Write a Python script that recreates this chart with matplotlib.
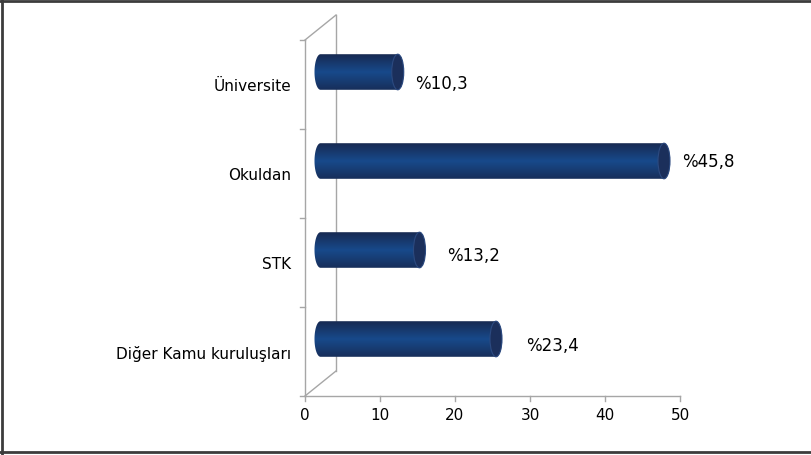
import numpy as np
import matplotlib
matplotlib.use("Agg")
import matplotlib.pyplot as plt
from matplotlib.patches import Polygon, Ellipse
from matplotlib.lines import Line2D

# chart data (top to bottom)
categories = ["Üniversite", "Okuldan", "STK", "Diğer Kamu kuruluşları"]
values = [10.3, 45.8, 13.2, 23.4]
value_labels = ["%10,3", "%45,8", "%13,2", "%23,4"]
x_ticks = [0, 10, 20, 30, 40, 50]

# label nudges in pixels (right, down) relative to the bar end
label_offsets = [(11, 12), (12, 1), (22, 6), (24, 7)]

W, H, DPI = 812, 455, 100
fig = plt.figure(figsize=(W / DPI, H / DPI), dpi=DPI)
plt.rcParams['font.family'] = ['DejaVu Sans']

# front plane of the 3D frame, in pixels
left, right, top, bottom = 305, 680, 40, 396
ax = fig.add_axes([left / W, 1 - bottom / H, (right - left) / W, (bottom - top) / H])
ax.set_xlim(0, 50)
ax.set_ylim(len(categories) - 0.5, -0.5)
ax.axis('off')

px_x = 50 / (right - left)              # data units per pixel along x
px_y = len(categories) / (bottom - top)  # category units per pixel along y
depth_dx, depth_dy = 31 * px_x, -25 * px_y  # back wall offset
grey = '#a6a6a6'

# frame lines: front axis, back wall, floor and top edge
y0, y1 = -0.5, len(categories) - 0.5
ax.plot([0, 0], [y0, y1], color=grey, lw=1, clip_on=False)
ax.plot([depth_dx, depth_dx], [y0 + depth_dy, y1 + depth_dy], color=grey, lw=1, clip_on=False)
ax.plot([0, depth_dx], [y0, y0 + depth_dy], color=grey, lw=1, clip_on=False)
ax.plot([0, depth_dx], [y1, y1 + depth_dy], color=grey, lw=1, clip_on=False)
ax.plot([0, 50], [y1, y1], color=grey, lw=1, clip_on=False)

# tick marks
for b in np.arange(y0, y1 + 0.01, 1.0):
    ax.plot([-5 * px_x, 0], [b, b], color=grey, lw=1, clip_on=False)
for t in x_ticks:
    ax.plot([t, t], [y1, y1 + 5 * px_y], color=grey, lw=1, clip_on=False)
    ax.text(t, y1 + 12 * px_y, str(t), ha='center', va='top', fontsize=11, color='black')

for i, cat in enumerate(categories):
    ax.text(-14 * px_x, i + 2 * px_y, cat, ha='right', va='center', fontsize=11, color='black')

# cylinder bars
bar_h = 0.40
cap_w = 6 * px_x
grad = np.interp(np.linspace(0, 1, 64), [0, 0.5, 1], [0, 1, 0.15]).reshape(-1, 1)
cmap = matplotlib.colors.LinearSegmentedColormap.from_list('navy', ['#172a52', '#18498a'])

for i, v in enumerate(values):
    cy = i + depth_dy / 2
    x0 = depth_dx / 2
    x1 = v + depth_dx / 2
    th = np.linspace(np.pi / 2, 3 * np.pi / 2, 40)
    lx = x0 + cap_w * np.cos(th)
    ly = cy - bar_h / 2 * np.sin(th)
    th2 = np.linspace(-np.pi / 2, np.pi / 2, 40)
    rx = x1 + cap_w * np.cos(th2)
    ry = cy - bar_h / 2 * np.sin(th2)
    pts = np.column_stack([np.concatenate([lx, rx]), np.concatenate([ly, ry])])
    body = Polygon(pts, closed=True, facecolor='none', edgecolor='none')
    ax.add_patch(body)
    im = ax.imshow(grad, extent=[x0 - cap_w, x1 + cap_w, cy + bar_h / 2, cy - bar_h / 2],
                   aspect='auto', cmap=cmap, interpolation='bilinear', zorder=2)
    im.set_clip_path(body)
    cap = Ellipse((x1, cy), 2 * cap_w, bar_h, facecolor='#1b2f5b',
                  edgecolor='#2c4a80', lw=0.8, zorder=3)
    ax.add_patch(cap)
    dx, dy = label_offsets[i]
    ax.annotate(value_labels[i], (x1 + cap_w, cy), xytext=(dx, -dy), textcoords='offset pixels',
                ha='left', va='center', fontsize=12, color='black')

ax.set_xlim(0, 50)
ax.set_ylim(len(categories) - 0.5, -0.5)

# outer border (top, left, bottom; right edge is cut off)
border = '#3c3c3c'
fig.lines.append(Line2D([0, 1], [1 - 1 / H, 1 - 1 / H], transform=fig.transFigure, color=border, lw=2))
fig.lines.append(Line2D([2 / W, 2 / W], [0, 1], transform=fig.transFigure, color=border, lw=2))
fig.lines.append(Line2D([0, 1], [3 / H, 3 / H], transform=fig.transFigure, color=border, lw=2))

fig.savefig('out.png', dpi=DPI)
